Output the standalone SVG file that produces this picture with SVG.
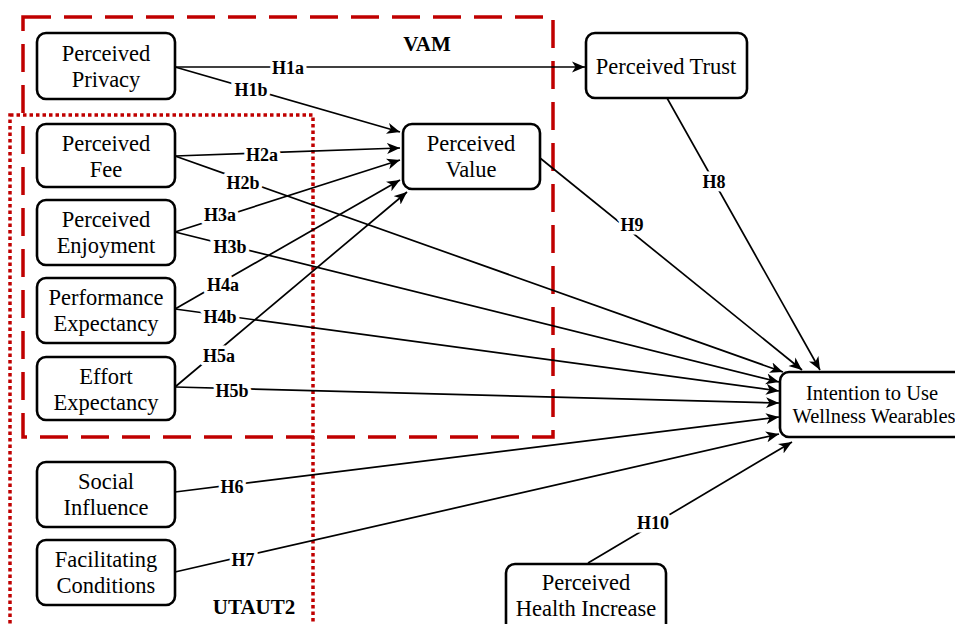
<svg xmlns="http://www.w3.org/2000/svg" width="955" height="624" viewBox="0 0 955 624">
  <style>
    .box { fill: #fff; stroke: #000; stroke-width: 2.6; }
    .nt { font-family: "Liberation Serif", "Times New Roman", serif; font-size: 22.5px; fill: #000; text-anchor: middle; }
    .edge { fill: none; stroke: #000; stroke-width: 1.7; }
    .lbl { font-family: "Liberation Serif", "Times New Roman", serif; font-size: 18px; font-weight: bold; fill: #000; text-anchor: middle; stroke: #fff; stroke-width: 7; stroke-linejoin: round; paint-order: stroke; }
    .title { font-family: "Liberation Serif", "Times New Roman", serif; font-size: 21px; font-weight: bold; fill: #000; text-anchor: middle; }
    .vam { fill: none; stroke: #c00000; stroke-width: 3.5; stroke-dasharray: 28 13; }
    .utaut { fill: none; stroke: #c00000; stroke-width: 3.5; stroke-dasharray: 3.5 3; }
  </style>
  <defs>
    <marker id="arrow" markerUnits="userSpaceOnUse" markerWidth="14" markerHeight="12" viewBox="0 0 14 12" refX="13" refY="6" orient="auto">
      <path d="M0,0.5 L13,6 L0,11.5 L3.5,6 Z" fill="#000"/>
    </marker>
  </defs>
  <rect width="955" height="624" fill="#fff"/>

  <!-- model boundaries -->
  <g id="frames">
    <rect class="vam" x="23" y="17" width="530" height="420"/>
    <rect class="utaut" x="10" y="115" width="303" height="520"/>
    <text class="title" x="427" y="51">VAM</text>
    <text class="title" x="254" y="614">UTAUT2</text>
  </g>

  <!-- hypothesis paths -->
  <g id="connectors">
    <line class="edge" x1="175" y1="67" x2="585" y2="67" marker-end="url(#arrow)"/>
    <line class="edge" x1="175" y1="67" x2="400" y2="132" marker-end="url(#arrow)"/>
    <line class="edge" x1="175" y1="156" x2="400" y2="148" marker-end="url(#arrow)"/>
    <line class="edge" x1="175" y1="156" x2="783" y2="372" marker-end="url(#arrow)"/>
    <line class="edge" x1="175" y1="232" x2="400" y2="160" marker-end="url(#arrow)"/>
    <line class="edge" x1="175" y1="232" x2="779" y2="382" marker-end="url(#arrow)"/>
    <line class="edge" x1="175" y1="309" x2="400" y2="180" marker-end="url(#arrow)"/>
    <line class="edge" x1="175" y1="309" x2="779" y2="391" marker-end="url(#arrow)"/>
    <line class="edge" x1="175" y1="387" x2="407" y2="192" marker-end="url(#arrow)"/>
    <line class="edge" x1="175" y1="387" x2="779" y2="403" marker-end="url(#arrow)"/>
    <line class="edge" x1="175" y1="492" x2="779" y2="417" marker-end="url(#arrow)"/>
    <line class="edge" x1="175" y1="572" x2="779" y2="434" marker-end="url(#arrow)"/>
    <line class="edge" x1="667" y1="98" x2="820" y2="370" marker-end="url(#arrow)"/>
    <line class="edge" x1="540" y1="158" x2="802" y2="370" marker-end="url(#arrow)"/>
    <line class="edge" x1="588" y1="563" x2="792" y2="442" marker-end="url(#arrow)"/>
    <text class="lbl" x="288" y="74">H1a</text>
    <text class="lbl" x="251" y="96">H1b</text>
    <text class="lbl" x="262" y="161">H2a</text>
    <text class="lbl" x="243" y="189">H2b</text>
    <text class="lbl" x="220" y="221">H3a</text>
    <text class="lbl" x="230" y="253">H3b</text>
    <text class="lbl" x="223" y="291">H4a</text>
    <text class="lbl" x="220" y="323">H4b</text>
    <text class="lbl" x="219" y="362">H5a</text>
    <text class="lbl" x="232" y="397">H5b</text>
    <text class="lbl" x="232" y="493">H6</text>
    <text class="lbl" x="243" y="566">H7</text>
    <text class="lbl" x="714" y="188">H8</text>
    <text class="lbl" x="632" y="231">H9</text>
    <text class="lbl" x="653" y="529">H10</text>
  </g>

  <g id="perceived-privacy">
    <rect class="box" x="37" y="33" width="138" height="66" rx="9"/>
    <text class="nt" x="106" y="61">Perceived</text>
    <text class="nt" x="106" y="87">Privacy</text>
  </g>
  <g id="perceived-fee">
    <rect class="box" x="37" y="124" width="138" height="63" rx="9"/>
    <text class="nt" x="106" y="151">Perceived</text>
    <text class="nt" x="106" y="177">Fee</text>
  </g>
  <g id="perceived-enjoyment">
    <rect class="box" x="37" y="200" width="138" height="65" rx="9"/>
    <text class="nt" x="106" y="227">Perceived</text>
    <text class="nt" x="106" y="253">Enjoyment</text>
  </g>
  <g id="performance-expectancy">
    <rect class="box" x="37" y="278" width="138" height="65" rx="9"/>
    <text class="nt" x="106" y="305">Performance</text>
    <text class="nt" x="106" y="331">Expectancy</text>
  </g>
  <g id="effort-expectancy">
    <rect class="box" x="37" y="357" width="138" height="63" rx="9"/>
    <text class="nt" x="106" y="384">Effort</text>
    <text class="nt" x="106" y="410">Expectancy</text>
  </g>
  <g id="social-influence">
    <rect class="box" x="37" y="462" width="138" height="65" rx="9"/>
    <text class="nt" x="106" y="489">Social</text>
    <text class="nt" x="106" y="515">Influence</text>
  </g>
  <g id="facilitating-conditions">
    <rect class="box" x="37" y="540" width="138" height="65" rx="9"/>
    <text class="nt" x="106" y="567">Facilitating</text>
    <text class="nt" x="106" y="593">Conditions</text>
  </g>
  <g id="perceived-value">
    <rect class="box" x="403" y="124" width="137" height="65" rx="9"/>
    <text class="nt" x="471" y="151">Perceived</text>
    <text class="nt" x="471" y="177">Value</text>
  </g>
  <g id="perceived-trust">
    <rect class="box" x="586" y="33" width="161" height="65" rx="9"/>
    <text class="nt" x="666" y="74">Perceived Trust</text>
  </g>
  <g id="intention-to-use">
    <rect class="box" x="780" y="372" width="185" height="65" rx="9"/>
    <text class="nt" x="872" y="400" style="font-size:20.5px">Intention to Use</text>
    <text class="nt" x="874" y="423" style="font-size:20.5px">Wellness Wearables</text>
  </g>
  <g id="perceived-health-increase">
    <rect class="box" x="506" y="564" width="160" height="70" rx="9"/>
    <text class="nt" x="586" y="590">Perceived</text>
    <text class="nt" x="586" y="616">Health Increase</text>
  </g>
</svg>
